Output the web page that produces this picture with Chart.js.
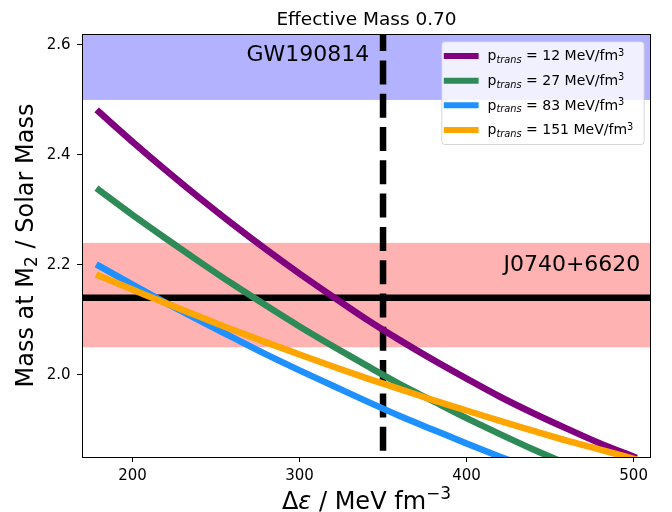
<!DOCTYPE html>
<html>
<head>
<meta charset="utf-8">
<script src="https://cdn.jsdelivr.net/npm/chart.js@4.4.1/dist/chart.umd.min.js"></script>
<style>
  html, body { margin: 0; padding: 0; background: #fff; }
  #wrap { width: 672px; height: 512px; }
</style>
</head>
<body>
<div id="wrap"><canvas id="massChart" width="672" height="512"></canvas></div>
<script>
const deltaEps = [180, 200, 220, 240, 260, 280, 300, 320, 340, 360, 380, 400, 420, 440, 460, 480, 500];
const pTrans = [12, 27, 83, 151];
const mass12 = [2.478, 2.424, 2.372, 2.322, 2.274, 2.228, 2.184, 2.142, 2.101, 2.063, 2.027, 1.993, 1.960, 1.930, 1.902, 1.875, 1.851];
const mass27 = [2.336, 2.291, 2.248, 2.206, 2.165, 2.126, 2.088, 2.052, 2.017, 1.983, 1.952, 1.921, 1.892, 1.864, 1.838, 1.813, 1.790];
const mass83 = [2.198, 2.164, 2.131, 2.099, 2.068, 2.037, 2.008, 1.980, 1.952, 1.925, 1.900, 1.875, 1.851, 1.828, 1.806, 1.785, 1.765];
const mass151 = [2.180, 2.155, 2.130, 2.106, 2.082, 2.059, 2.037, 2.015, 1.994, 1.974, 1.954, 1.935, 1.916, 1.898, 1.880, 1.864, 1.847];
const lineColors = ['#800080', '#2e8b57', '#1e90ff', '#ffa500'];

const xTicks = [200, 300, 400, 500];
const yTicks = [2.0, 2.2, 2.4, 2.6];

const gwBand = [2.5, 2.7];
const j0740Band = [2.05, 2.24];
const j0740Mass = 2.14;
const deltaEpsMark = 350;

const FONT = "'DejaVu Sans', sans-serif";
const ctx = document.getElementById('massChart').getContext('2d');

// draws a run of text pieces (for sub/superscripts) starting at x,y
function drawRich(c, parts, x, y, align) {
    let total = 0;
    parts.forEach(p => {
        c.font = (p.italic ? 'italic ' : '') + p.size + 'px ' + FONT;
        p.w = c.measureText(p.text).width;
        total += p.w;
    });
    let cx = align === 'center' ? x - total / 2 : (align === 'right' ? x - total : x);
    c.textAlign = 'left';
    c.textBaseline = 'alphabetic';
    parts.forEach(p => {
        c.font = (p.italic ? 'italic ' : '') + p.size + 'px ' + FONT;
        c.fillText(p.text, cx, y + (p.dy || 0));
        cx += p.w;
    });
}

const decorPlugin = {
    id: 'decor',
    beforeDatasetsDraw(chart) {
        const { ctx: c, chartArea: a, scales: { x, y } } = chart;
        c.save();
        c.beginPath();
        c.rect(a.left, a.top, a.width, a.height);
        c.clip();

        c.fillStyle = 'rgba(0,0,255,0.3)';
        let top = y.getPixelForValue(gwBand[1]), bot = y.getPixelForValue(gwBand[0]);
        c.fillRect(a.left, top, a.width, bot - top);

        c.fillStyle = 'rgba(255,0,0,0.3)';
        top = y.getPixelForValue(j0740Band[1]); bot = y.getPixelForValue(j0740Band[0]);
        c.fillRect(a.left, top, a.width, bot - top);

        // measured mass line
        c.strokeStyle = '#000';
        c.lineWidth = 6.5;
        c.beginPath();
        const hy = y.getPixelForValue(j0740Mass);
        c.moveTo(a.left, hy);
        c.lineTo(a.right, hy);
        c.stroke();

        // dashed vertical line
        const vx = x.getPixelForValue(deltaEpsMark);
        c.lineWidth = 6.5;
        c.setLineDash([24, 9.3]);
        c.lineDashOffset = 6.9;
        c.lineCap = 'butt';
        c.beginPath();
        c.moveTo(vx, a.top);
        c.lineTo(vx, a.bottom);
        c.stroke();
        c.restore();
    },
    afterDatasetsDraw(chart) {
        const { ctx: c, chartArea: a, scales: { x, y } } = chart;
        c.save();
        c.fillStyle = '#000';
        drawRich(c, [{ text: 'GW190814', size: 22 }], x.getPixelForValue(341.8), y.getPixelForValue(2.571), 'right');
        drawRich(c, [{ text: 'J0740+6620', size: 22 }], x.getPixelForValue(504), y.getPixelForValue(2.1896), 'right');

        // spines
        c.strokeStyle = '#000';
        c.lineWidth = 1;
        c.strokeRect(a.left + 0.5, a.top + 0.5, a.width - 1, a.height);

        // title
        const cxm = (a.left + a.right) / 2;
        drawRich(c, [{ text: 'Effective Mass 0.70', size: 18.5 }], cxm, 24.5, 'center');

        // axis titles
        drawRich(c, [
            { text: 'Δ', size: 24 },
            { text: 'ε', size: 24, italic: true },
            { text: ' / MeV fm', size: 24 },
            { text: '−3', size: 17, dy: -10 }
        ], cxm, 508.5, 'center');

        c.save();
        c.translate(33, (a.top + a.bottom) / 2);
        c.rotate(-Math.PI / 2);
        drawRich(c, [
            { text: 'Mass at M', size: 24 },
            { text: '2', size: 17, dy: 4 },
            { text: ' / Solar Mass', size: 24 }
        ], 0, 0, 'center');
        c.restore();

        // legend box
        const bx = a.right - 209.7, by = a.top + 7.3, bw = 202.3, bh = 102.7;
        c.fillStyle = 'rgba(255,255,255,0.8)';
        c.strokeStyle = 'rgba(204,204,204,0.8)';
        c.lineWidth = 1;
        c.beginPath();
        c.roundRect(bx + 0.5, by + 0.5, bw, bh, 3);
        c.fill();
        c.stroke();
        pTrans.forEach((p, i) => {
            const ry = by + 14.7 + i * 24.67;
            c.strokeStyle = lineColors[i];
            c.lineWidth = 6;
            c.lineCap = 'butt';
            c.beginPath();
            c.moveTo(bx + 2.5, ry);
            c.lineTo(bx + 37.3, ry);
            c.stroke();
            c.fillStyle = '#000';
            drawRich(c, [
                { text: 'p', size: 14 },
                { text: 'trans', size: 9.8, italic: true, dy: 2.8 },
                { text: ' = ' + p + ' MeV/fm', size: 14 },
                { text: '3', size: 9.8, dy: -4.5 }
            ], bx + 46.3, ry + 4.3, 'left');
        });
        c.restore();
    }
};

const seriesValues = [mass12, mass27, mass83, mass151];

const chart = new Chart(ctx, {
    type: 'line',
    data: {
        datasets: pTrans.map((p, i) => ({
            label: 'p_trans = ' + p + ' MeV/fm3',
            data: deltaEps.map((e, k) => ({ x: e, y: seriesValues[i][k] })),
            borderColor: lineColors[i],
            backgroundColor: lineColors[i],
            borderWidth: 6.5,
            borderCapStyle: 'square',
            borderJoinStyle: 'round',
            pointRadius: 0,
            cubicInterpolationMode: 'monotone',
            fill: false,
            clip: 0,
            order: pTrans.length - i
        }))
    },
    options: {
        responsive: false,
        animation: false,
        devicePixelRatio: 1,
        layout: { padding: { top: 34, right: 21, left: 0, bottom: 0 } },
        plugins: {
            legend: { display: false },
            tooltip: { enabled: false }
        },
        scales: {
            x: {
                type: 'linear',
                min: 169.8,
                max: 510.4,
                afterFit: s => { s.height = 55; },
                afterBuildTicks: s => { s.ticks = xTicks.map(v => ({ value: v })); },
                grid: { drawOnChartArea: false, drawTicks: true, tickLength: 5, tickColor: '#000', tickWidth: 1 },
                border: { display: false },
                ticks: {
                    color: '#000',
                    padding: 5,
                    maxRotation: 0,
                    font: { family: FONT, size: 15 },
                    callback: v => String(v)
                }
            },
            y: {
                type: 'linear',
                min: 1.8504,
                max: 2.62,
                afterFit: s => { s.width = 82; },
                afterBuildTicks: s => { s.ticks = yTicks.map(v => ({ value: v })); },
                grid: { drawOnChartArea: false, drawTicks: true, tickLength: 5, tickColor: '#000', tickWidth: 1 },
                border: { display: false },
                ticks: {
                    color: '#000',
                    padding: 6.5,
                    font: { family: FONT, size: 15 },
                    callback: v => v.toFixed(1)
                }
            }
        }
    },
    plugins: [decorPlugin]
});
</script>
</body>
</html>
